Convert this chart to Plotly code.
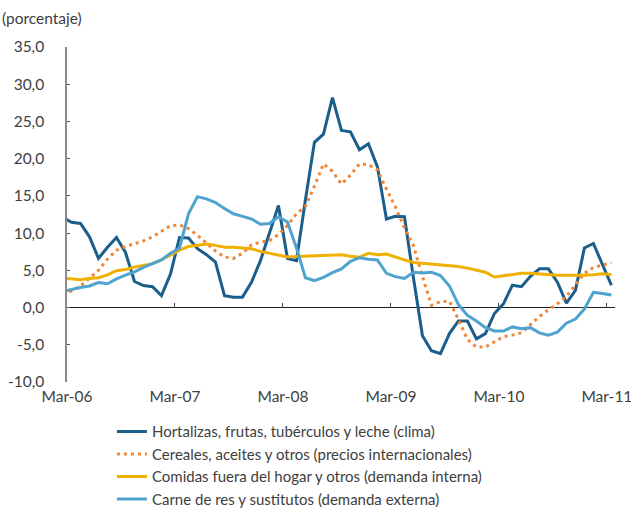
import pandas as pd
import plotly.graph_objects as go

# Monthly annual variation (%), Feb-2006 .. Mar-2011
meses = pd.period_range("2006-02", "2011-03", freq="M")
etiquetas = ["Mar-06", "Mar-07", "Mar-08", "Mar-09", "Mar-10", "Mar-11"]
y_ticks = [-10, -5, 0, 5, 10, 15, 20, 25, 30, 35]
y_etiquetas = ["-10,0", "-5,0", "0,0", "5,0", "10,0", "15,0", "20,0", "25,0", "30,0", "35,0"]

hortalizas = [12.15, 11.45, 11.3, 9.5, 6.6, 8.1, 9.4, 7.4, 3.5, 2.95, 2.8, 1.6, 4.5,
              9.4, 9.35, 7.9, 7.1, 6.1, 1.6, 1.4, 1.4, 3.4, 6.3, 9.9, 13.7, 6.6, 6.3,
              14.5, 22.2, 23.3, 28.2, 23.8, 23.6, 21.2, 22.0, 18.9, 11.9, 12.25, 12.2,
              4.0, -3.8, -5.8, -6.2, -3.5, -1.8, -1.8, -4.2, -3.5, -0.8, 0.5, 3.0, 2.8,
              4.2, 5.2, 5.2, 3.4, 0.6, 2.3, 8.0, 8.6, 5.8, 3.0]

cereales = [1.9, 2.2, 2.9, 4.0, 5.0, 6.5, 7.7, 8.2, 8.6, 8.95, 9.5, 10.2, 11.0, 11.1,
            10.6, 9.7, 8.7, 7.6, 6.8, 6.6, 7.3, 8.4, 8.8, 9.0, 9.8, 11.0, 12.6, 13.6,
            16.3, 19.3, 18.3, 16.6, 17.8, 19.3, 19.2, 18.5, 15.9, 13.5, 10.7, 8.3,
            4.2, 0.3, 0.8, 0.85, -1.6, -4.3, -5.3, -5.3, -4.6, -3.9, -3.7, -3.4,
            -2.3, -1.2, -0.3, 0.5, 1.5, 3.0, 4.6, 5.4, 5.7, 6.0]

comidas = [3.95, 3.85, 3.75, 3.9, 4.0, 4.4, 4.95, 5.1, 5.45, 5.65, 5.9, 6.4, 7.1,
           7.7, 8.2, 8.4, 8.55, 8.35, 8.1, 8.1, 7.95, 7.9, 7.55, 7.3, 7.05,
           6.8, 6.85, 6.9, 7.0, 7.05, 7.1, 7.1, 6.9, 6.75, 7.3, 7.1, 7.2, 6.75,
           6.4, 6.05, 5.95, 5.85, 5.7, 5.6, 5.5, 5.3, 5.0, 4.75, 4.1,
           4.3, 4.5, 4.6, 4.6, 4.5, 4.4, 4.35, 4.35, 4.3, 4.35, 4.4, 4.55, 4.4]

carne = [2.15, 2.45, 2.7, 2.9, 3.35, 3.2, 3.85, 4.35, 4.8, 5.4, 5.9, 6.4, 7.3, 8.0,
         12.6, 14.9, 14.6, 14.1, 13.3, 12.6, 12.25, 11.9, 11.2, 11.3, 12.2, 11.5, 8.0,
         4.0, 3.6, 4.05, 4.7, 5.2, 6.2, 6.7, 6.5, 6.4, 4.6, 4.15, 3.9,
         4.75, 4.65, 4.75, 4.3, 2.9, 0.4, -1.05, -1.8, -2.7, -3.15, -3.15,
         -2.6, -2.85, -2.7, -3.4, -3.7, -3.3, -2.1, -1.55, -0.2, 2.05, 1.9, 1.7]

nombres = [
    "Hortalizas, frutas, tubérculos y leche (clima)",
    "Cereales, aceites y otros (precios internacionales)",
    "Comidas fuera del hogar y otros (demanda interna)",
    "Carne de res y sustitutos (demanda externa)",
]
colores = ["#1b5e8c", "#f08536", "#efb000", "#4fa3cf"]
trazos = ["solid", "3px,4px", "solid", "solid"]

# months counted from Mar-06; each month drawn at the centre of its slot
inicio = pd.Period("2006-03", freq="M")
x = [(m - inicio).n + 0.5 for m in meses]
tickvals = [12 * k for k in range(len(etiquetas))]

fig = go.Figure()
for serie, nombre, color, trazo in zip([hortalizas, cereales, comidas, carne],
                                       nombres, colores, trazos):
    fig.add_trace(go.Scatter(
        x=x, y=serie, name=nombre, mode="lines",
        line=dict(color=color, width=3, dash=trazo),
    ))

texto = "#404040"
fuente = "Lato, 'Open Sans', sans-serif"
x_rango = [0, 60.9]
tam = 15.5

fig.update_layout(
    width=631, height=508,
    margin=dict(l=67, r=16, t=47, b=126, autoexpand=False),
    paper_bgcolor="white", plot_bgcolor="white",
    font=dict(family=fuente, size=tam, color=texto),
    showlegend=True,
    legend=dict(
        x=0.082, xanchor="left", y=-0.099, yanchor="top",
        font=dict(size=15, color=texto), bgcolor="rgba(0,0,0,0)",
        tracegroupgap=0, itemwidth=30,
    ),
    xaxis=dict(
        range=x_rango, tickvals=tickvals, ticktext=etiquetas,
        showgrid=False, zeroline=False, showline=False, ticks="",
        ticklabeloverflow="allow", ticklabelstandoff=3,
        tickfont=dict(size=tam, color=texto),
    ),
    # tick marks sitting on the zero line
    xaxis2=dict(
        overlaying="x", anchor="free", position=10 / 45, matches="x",
        range=x_rango, tickvals=tickvals, showticklabels=False,
        showgrid=False, zeroline=False, showline=False,
        ticks="inside", ticklen=5, tickwidth=1.2, tickcolor="#444",
        layer="below traces",
    ),
    yaxis=dict(
        range=[-10, 35], tickvals=y_ticks, ticktext=y_etiquetas,
        showgrid=False, zeroline=True, zerolinecolor="#222", zerolinewidth=1.3,
        showline=True, linecolor="#8a8a8a", linewidth=1.5,
        ticks="inside", ticklen=3, tickcolor="#555",
        ticklabelstandoff=18,
        tickfont=dict(size=tam, color=texto),
    ),
    annotations=[dict(
        text="(porcentaje)", xref="paper", yref="paper",
        x=-67 / 548, y=(382 - 18) / 335, xanchor="left", yanchor="middle",
        showarrow=False, font=dict(size=tam, color=texto),
    )],
)

# invisible trace so the zero-line tick axis is drawn
fig.add_trace(go.Scatter(x=[None], y=[None], xaxis="x2", showlegend=False,
                         hoverinfo="skip"))

fig.write_html("out.html")
